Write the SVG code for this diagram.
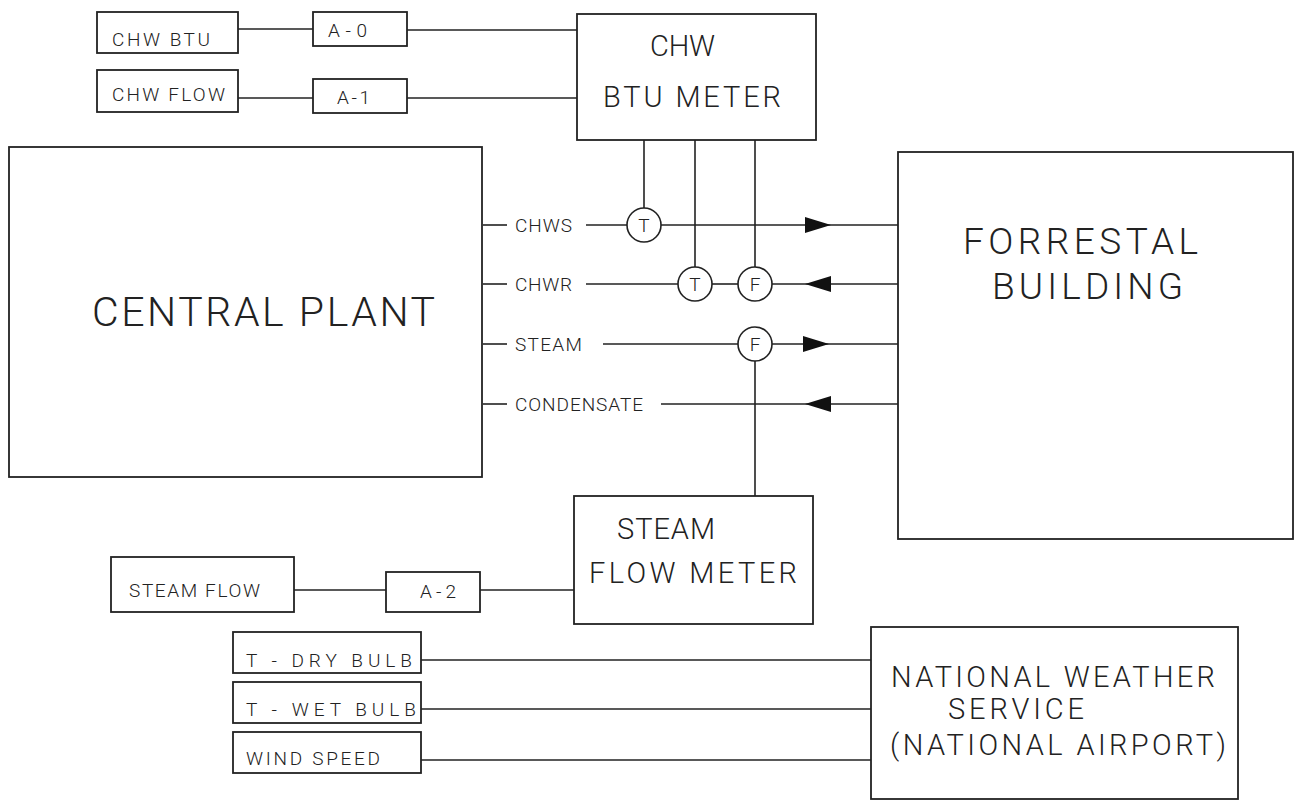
<svg xmlns="http://www.w3.org/2000/svg" width="1302" height="801" viewBox="0 0 1302 801">
<style>
  .box{fill:#fff;stroke:#222;stroke-width:1.8}
  .ln{fill:none;stroke:#222;stroke-width:1.6}
  .arr{fill:#111;stroke:none}
  .circ{fill:#fff;stroke:#222;stroke-width:1.6}
  text{font-family:Roboto,"Liberation Sans",sans-serif;font-weight:300;fill:#222}
  .s{font-size:19px}
  .m{font-size:29px}
  .l{font-size:41px}
  .f{font-size:37px}
  .c{font-size:19px;text-anchor:middle}
</style>
<rect width="1302" height="801" fill="#fff"/>
<g id="connectors">
  <polyline class="ln" points="238,29 313,29"/>
  <polyline class="ln" points="407,30 577,30"/>
  <polyline class="ln" points="238,98 313,98"/>
  <polyline class="ln" points="407,98 577,98"/>
  <polyline class="ln" points="644,140 644,208"/>
  <polyline class="ln" points="695,140 695,267"/>
  <polyline class="ln" points="755,140 755,267"/>
  <polyline class="ln" points="483,225 507,225"/>
  <polyline class="ln" points="586,225 627,225"/>
  <polyline class="ln" points="661,225 898,225"/>
  <polygon class="arr" points="831,225 805,217 805,233"/>
  <polyline class="ln" points="483,284 507,284"/>
  <polyline class="ln" points="586,284 678,284"/>
  <polyline class="ln" points="712,284 738,284"/>
  <polyline class="ln" points="772,284 898,284"/>
  <polygon class="arr" points="805,284 831,276 831,292"/>
  <polyline class="ln" points="483,344 507,344"/>
  <polyline class="ln" points="603,344 738,344"/>
  <polyline class="ln" points="772,344 898,344"/>
  <polygon class="arr" points="829,344 803,336 803,352"/>
  <polyline class="ln" points="483,404 507,404"/>
  <polyline class="ln" points="661,404 898,404"/>
  <polygon class="arr" points="805,404 831,396 831,412"/>
  <polyline class="ln" points="755,361 755,496"/>
  <polyline class="ln" points="294,590 386,590"/>
  <polyline class="ln" points="480,590 574,590"/>
  <polyline class="ln" points="421,660 871,660"/>
  <polyline class="ln" points="421,709 871,709"/>
  <polyline class="ln" points="421,760 871,760"/>
</g>
<g id="chw-btu">
  <rect class="box" x="97" y="12" width="141" height="41"/>
  <text class="s" x="112" y="46" textLength="98">CHW BTU</text>
</g>
<g id="a0">
  <rect class="box" x="313" y="12" width="94" height="34"/>
  <text class="s" x="328" y="37" textLength="39">A-0</text>
</g>
<g id="chw-flow">
  <rect class="box" x="97" y="70" width="141" height="42"/>
  <text class="s" x="112" y="101" textLength="113">CHW FLOW</text>
</g>
<g id="a1">
  <rect class="box" x="313" y="79" width="94" height="34"/>
  <text class="s" x="337" y="104" textLength="33">A-1</text>
</g>
<g id="chw-btu-meter">
  <rect class="box" x="577" y="14" width="239" height="126"/>
  <text class="m" x="650" y="56" textLength="65">CHW</text>
  <text class="m" x="603" y="107" textLength="178">BTU METER</text>
</g>
<g id="central-plant">
  <rect class="box" x="9" y="147" width="473" height="330"/>
  <text class="l" x="92" y="326" textLength="343">CENTRAL PLANT</text>
</g>
<g id="labels">
  <text class="s" x="515" y="232" textLength="57">CHWS</text>
  <text class="s" x="515" y="291" textLength="57">CHWR</text>
  <text class="s" x="515" y="351" textLength="67">STEAM</text>
  <text class="s" x="515" y="411" textLength="128">CONDENSATE</text>
</g>
<g id="sensor-t1">
  <circle class="circ" cx="644" cy="225" r="17"/>
  <text class="c" x="644" y="232">T</text>
</g>
<g id="sensor-t2">
  <circle class="circ" cx="695" cy="284" r="17"/>
  <text class="c" x="695" y="291">T</text>
</g>
<g id="sensor-f1">
  <circle class="circ" cx="755" cy="284" r="17"/>
  <text class="c" x="755" y="291">F</text>
</g>
<g id="sensor-f2">
  <circle class="circ" cx="755" cy="344" r="17"/>
  <text class="c" x="755" y="351">F</text>
</g>
<g id="forrestal">
  <rect class="box" x="898" y="152" width="395" height="387"/>
  <text class="f" x="963" y="254" textLength="235">FORRESTAL</text>
  <text class="f" x="992" y="299" textLength="191">BUILDING</text>
</g>
<g id="steam-flow">
  <rect class="box" x="111" y="557" width="183" height="55"/>
  <text class="s" x="129" y="597" textLength="131">STEAM FLOW</text>
</g>
<g id="a2">
  <rect class="box" x="386" y="572" width="94" height="40"/>
  <text class="s" x="420" y="598" textLength="36">A-2</text>
</g>
<g id="steam-flow-meter">
  <rect class="box" x="574" y="496" width="239" height="128"/>
  <text class="m" x="617" y="539" textLength="98">STEAM</text>
  <text class="m" x="589" y="583" textLength="208">FLOW METER</text>
</g>
<g id="t-dry">
  <rect class="box" x="233" y="632" width="188" height="41"/>
  <text class="s" x="246" y="667" textLength="166">T - DRY BULB</text>
</g>
<g id="t-wet">
  <rect class="box" x="233" y="682" width="188" height="41"/>
  <text class="s" x="246" y="716" textLength="170">T - WET BULB</text>
</g>
<g id="wind">
  <rect class="box" x="233" y="732" width="188" height="41"/>
  <text class="s" x="246" y="765" textLength="134">WIND SPEED</text>
</g>
<g id="nws">
  <rect class="box" x="871" y="627" width="367" height="172"/>
  <text class="m" x="891" y="687" textLength="324">NATIONAL WEATHER</text>
  <text class="m" x="948" y="719" textLength="136">SERVICE</text>
  <text class="m" x="890" y="755" textLength="336">(NATIONAL AIRPORT)</text>
</g>
</svg>
